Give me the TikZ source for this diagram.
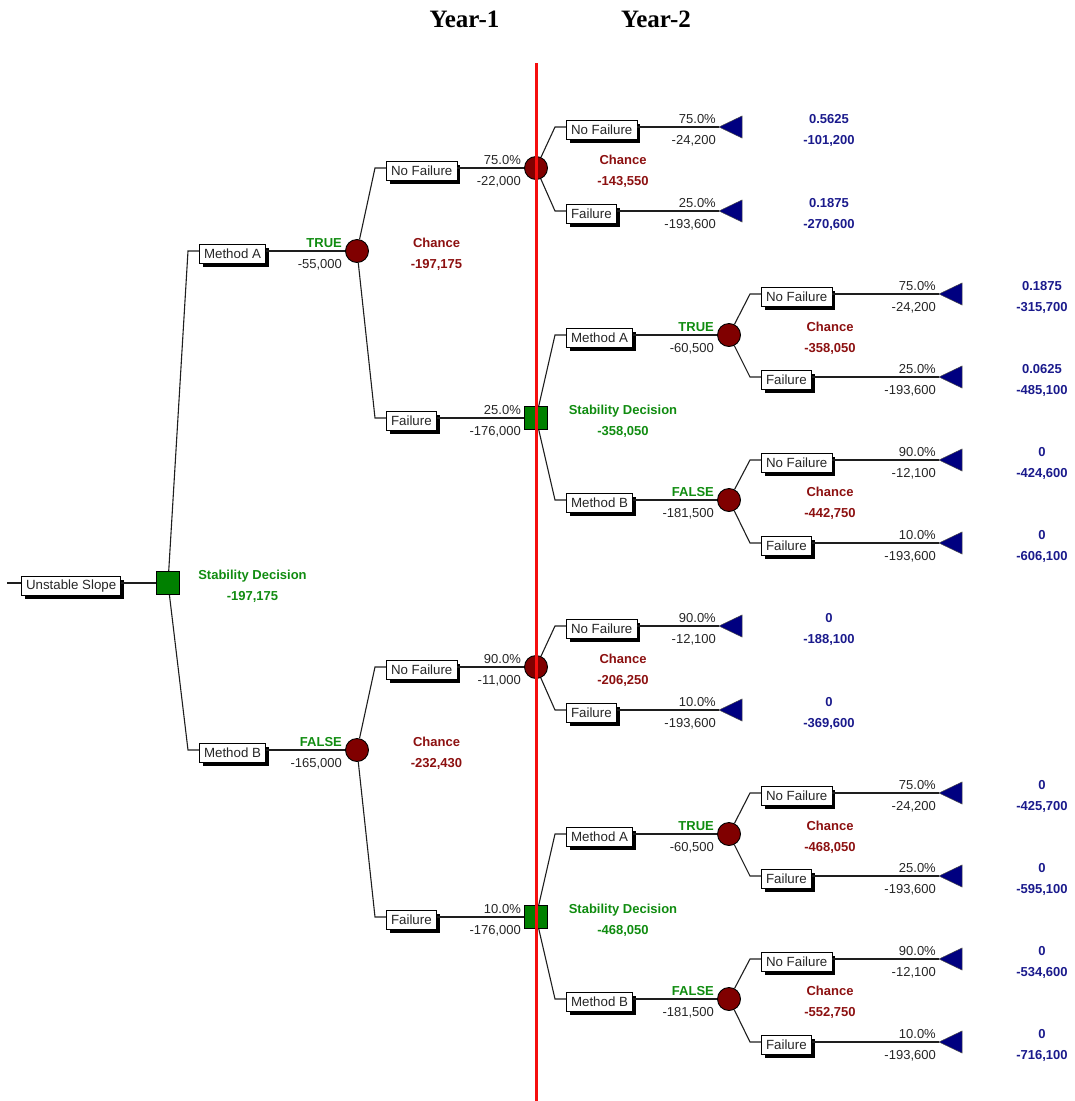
\documentclass[tikz,border=0pt]{standalone}
\usepackage{fontspec}
\setmainfont{Liberation Sans}
\newfontfamily\yearfont{Liberation Serif}
\usetikzlibrary{shadows}

\definecolor{decgreen}{RGB}{0,128,0}
\definecolor{dectext}{RGB}{16,140,16}
\definecolor{chred}{RGB}{128,0,0}
\definecolor{chtext}{RGB}{140,16,16}
\definecolor{endblue}{RGB}{0,0,128}
\definecolor{endtext}{RGB}{26,26,140}
\definecolor{wire}{RGB}{30,30,30}
\definecolor{yearline}{RGB}{245,15,15}

\tikzset{
  wirepath/.style={draw=wire, line width=1.1pt},
  branchbox/.style={draw=black, line width=0.9pt, fill=white, anchor=west,
    font=\fontsize{13.3}{15}\selectfont, text=black!85, inner xsep=4.6pt, inner ysep=0pt,
    minimum height=19.5pt,
    drop shadow={shadow xshift=3.3pt, shadow yshift=-3.3pt, fill=black, opacity=1}},
  chancenode/.style={circle, draw=black, line width=0.9pt, fill=chred,
    minimum size=23pt, inner sep=0pt},
  decisionnode/.style={rectangle, draw=black, line width=0.9pt, fill=decgreen,
    minimum size=23pt, inner sep=0pt},
  endtri/.style={fill=endblue, draw=black!70, line width=0.5pt},
  edgetxt/.style={anchor=base east, font=\fontsize{13}{15}\selectfont, text=black!85, inner sep=0pt},
  edgetrue/.style={anchor=base east, font=\bfseries\fontsize{13}{15}\selectfont, text=dectext, inner sep=0pt},
  chtxt/.style={anchor=base, font=\bfseries\fontsize{13}{15}\selectfont, text=chtext, inner sep=0pt},
  dectxt/.style={anchor=base, font=\bfseries\fontsize{13}{15}\selectfont, text=dectext, inner sep=0pt},
  endtxt/.style={anchor=base, font=\bfseries\fontsize{13}{15}\selectfont, text=endtext, inner sep=0pt},
  yeartitle/.style={anchor=base, font=\yearfont\bfseries\fontsize{25}{28}\selectfont, text=black, inner sep=0pt}
}

% two texts on a branch, right-aligned just before the node it runs into
\newcommand\edgepair[5]{%
  \node[#1] (#2u) at ([xshift=-3pt,yshift=4pt]#3) {#4};
  \node[edgetxt] (#2l) at ([xshift=-3pt,yshift=-17pt]#3) {#5};}
% two centred texts beside a node (position given as x,y)
\newcommand\nodepair[5]{%
  \coordinate (#2c) at (#3);
  \node[#1] (#2u) at ([yshift=4pt]#2c) {#4};
  \node[#1] (#2l) at ([yshift=-17pt]#2c) {#5};}
% end point: filled triangle pointing left, its tip at the named coordinate
\newcommand\leafend[2]{%
  \coordinate (#1) at #2;
  \filldraw[endtri] (#1) -- ++(23,-11) -- ++(0,22) -- cycle;}
% elbow + labelled box hanging from a parent node
\newcommand\boxbranch[5]{% parent, elbow name, elbow pos, box name, box text
  \coordinate (#2) at #3;
  \node[branchbox] (#4) at ([xshift=11pt,yshift=-3pt]#2) {#5};
  \draw[wirepath] (#1) -- (#2) -- (#2 -| #4.west);}

\begin{document}
\begin{tikzpicture}[x=1pt,y=-1pt]
\useasboundingbox (0,0) rectangle (1075,1101);

% titles
\node[yeartitle] (yearone) at (464.5,27) {Year-1};
\node[yeartitle] (yeartwo) at (656,27) {Year-2};

% root
\coordinate (in) at (7,583);
\node[branchbox] (root) at (21,586) {Unstable Slope};
\node[decisionnode] (D0) at (168,583) {};
\draw[wirepath] (in) -- (in -| root.west);
\draw[wirepath] (root.east |- D0) -- (D0);
\nodepair{dectxt}{dz}{252.5,583}{Stability Decision}{-197,175}

% ---------- Year-1, Method A ----------
\node[chancenode] (C1) at (357,251) {};
\boxbranch{D0}{eA}{(188,251)}{bA}{Method A}
\draw[wirepath] (bA.east |- C1) -- (C1);
\edgepair{edgetrue}{lA}{C1.west}{TRUE}{-55,000}
\nodepair{chtxt}{nA}{436.5,251}{Chance}{-197,175}

\node[chancenode] (C11) at (536,168) {};
\boxbranch{C1}{eA1}{(375,168)}{bA1}{No Failure}
\draw[wirepath] (bA1.east |- C11) -- (C11);
\edgepair{edgetxt}{lA1}{C11.west}{75.0\%}{-22,000}
\nodepair{chtxt}{nA1}{623,168}{Chance}{-143,550}

\node[decisionnode] (D11) at (536,418) {};
\boxbranch{C1}{eA2}{(375,418)}{bA2}{Failure}
\draw[wirepath] (bA2.east |- D11) -- (D11);
\edgepair{edgetxt}{lA2}{D11.west}{25.0\%}{-176,000}
\nodepair{dectxt}{nA2}{623,418}{Stability Decision}{-358,050}

% C11 leaves
\leafend{tA11}{(719,127)}
\boxbranch{C11}{eA11}{(555,127)}{bA11}{No Failure}
\draw[wirepath] (bA11.east |- tA11) -- (tA11);
\edgepair{edgetxt}{lA11}{tA11}{75.0\%}{-24,200}
\nodepair{endtxt}{vA11}{829,127}{0.5625}{-101,200}

\leafend{tA12}{(719,211)}
\boxbranch{C11}{eA12}{(555,211)}{bA12}{Failure}
\draw[wirepath] (bA12.east |- tA12) -- (tA12);
\edgepair{edgetxt}{lA12}{tA12}{25.0\%}{-193,600}
\nodepair{endtxt}{vA12}{829,211}{0.1875}{-270,600}

% D11 options
\node[chancenode] (C111) at (729,335) {};
\boxbranch{D11}{eA21}{(555,335)}{bA21}{Method A}
\draw[wirepath] (bA21.east |- C111) -- (C111);
\edgepair{edgetrue}{lA21}{C111.west}{TRUE}{-60,500}
\nodepair{chtxt}{nA21}{830,335}{Chance}{-358,050}

\node[chancenode] (C112) at (729,500) {};
\boxbranch{D11}{eA22}{(555,500)}{bA22}{Method B}
\draw[wirepath] (bA22.east |- C112) -- (C112);
\edgepair{edgetrue}{lA22}{C112.west}{FALSE}{-181,500}
\nodepair{chtxt}{nA22}{830,500}{Chance}{-442,750}

% C111 leaves
\leafend{tA211}{(939,294)}
\boxbranch{C111}{eA211}{(750,294)}{bA211}{No Failure}
\draw[wirepath] (bA211.east |- tA211) -- (tA211);
\edgepair{edgetxt}{lA211}{tA211}{75.0\%}{-24,200}
\nodepair{endtxt}{vA211}{1042,294}{0.1875}{-315,700}

\leafend{tA212}{(939,377)}
\boxbranch{C111}{eA212}{(750,377)}{bA212}{Failure}
\draw[wirepath] (bA212.east |- tA212) -- (tA212);
\edgepair{edgetxt}{lA212}{tA212}{25.0\%}{-193,600}
\nodepair{endtxt}{vA212}{1042,377}{0.0625}{-485,100}

% C112 leaves
\leafend{tA221}{(939,460)}
\boxbranch{C112}{eA221}{(750,460)}{bA221}{No Failure}
\draw[wirepath] (bA221.east |- tA221) -- (tA221);
\edgepair{edgetxt}{lA221}{tA221}{90.0\%}{-12,100}
\nodepair{endtxt}{vA221}{1042,460}{0}{-424,600}

\leafend{tA222}{(939,543)}
\boxbranch{C112}{eA222}{(750,543)}{bA222}{Failure}
\draw[wirepath] (bA222.east |- tA222) -- (tA222);
\edgepair{edgetxt}{lA222}{tA222}{10.0\%}{-193,600}
\nodepair{endtxt}{vA222}{1042,543}{0}{-606,100}

% ---------- Year-1, Method B ----------
\node[chancenode] (C2) at (357,750) {};
\boxbranch{D0}{eB}{(188,750)}{bB}{Method B}
\draw[wirepath] (bB.east |- C2) -- (C2);
\edgepair{edgetrue}{lB}{C2.west}{FALSE}{-165,000}
\nodepair{chtxt}{nB}{436.5,750}{Chance}{-232,430}

\node[chancenode] (C21) at (536,667) {};
\boxbranch{C2}{eB1}{(375,667)}{bB1}{No Failure}
\draw[wirepath] (bB1.east |- C21) -- (C21);
\edgepair{edgetxt}{lB1}{C21.west}{90.0\%}{-11,000}
\nodepair{chtxt}{nB1}{623,667}{Chance}{-206,250}

\node[decisionnode] (D21) at (536,917) {};
\boxbranch{C2}{eB2}{(375,917)}{bB2}{Failure}
\draw[wirepath] (bB2.east |- D21) -- (D21);
\edgepair{edgetxt}{lB2}{D21.west}{10.0\%}{-176,000}
\nodepair{dectxt}{nB2}{623,917}{Stability Decision}{-468,050}

% C21 leaves
\leafend{tB11}{(719,626)}
\boxbranch{C21}{eB11}{(555,626)}{bB11}{No Failure}
\draw[wirepath] (bB11.east |- tB11) -- (tB11);
\edgepair{edgetxt}{lB11}{tB11}{90.0\%}{-12,100}
\nodepair{endtxt}{vB11}{829,626}{0}{-188,100}

\leafend{tB12}{(719,710)}
\boxbranch{C21}{eB12}{(555,710)}{bB12}{Failure}
\draw[wirepath] (bB12.east |- tB12) -- (tB12);
\edgepair{edgetxt}{lB12}{tB12}{10.0\%}{-193,600}
\nodepair{endtxt}{vB12}{829,710}{0}{-369,600}

% D21 options
\node[chancenode] (C211) at (729,834) {};
\boxbranch{D21}{eB21}{(555,834)}{bB21}{Method A}
\draw[wirepath] (bB21.east |- C211) -- (C211);
\edgepair{edgetrue}{lB21}{C211.west}{TRUE}{-60,500}
\nodepair{chtxt}{nB21}{830,834}{Chance}{-468,050}

\node[chancenode] (C212) at (729,999) {};
\boxbranch{D21}{eB22}{(555,999)}{bB22}{Method B}
\draw[wirepath] (bB22.east |- C212) -- (C212);
\edgepair{edgetrue}{lB22}{C212.west}{FALSE}{-181,500}
\nodepair{chtxt}{nB22}{830,999}{Chance}{-552,750}

% C211 leaves
\leafend{tB211}{(939,793)}
\boxbranch{C211}{eB211}{(750,793)}{bB211}{No Failure}
\draw[wirepath] (bB211.east |- tB211) -- (tB211);
\edgepair{edgetxt}{lB211}{tB211}{75.0\%}{-24,200}
\nodepair{endtxt}{vB211}{1042,793}{0}{-425,700}

\leafend{tB212}{(939,876)}
\boxbranch{C211}{eB212}{(750,876)}{bB212}{Failure}
\draw[wirepath] (bB212.east |- tB212) -- (tB212);
\edgepair{edgetxt}{lB212}{tB212}{25.0\%}{-193,600}
\nodepair{endtxt}{vB212}{1042,876}{0}{-595,100}

% C212 leaves
\leafend{tB221}{(939,959)}
\boxbranch{C212}{eB221}{(750,959)}{bB221}{No Failure}
\draw[wirepath] (bB221.east |- tB221) -- (tB221);
\edgepair{edgetxt}{lB221}{tB221}{90.0\%}{-12,100}
\nodepair{endtxt}{vB221}{1042,959}{0}{-534,600}

\leafend{tB222}{(939,1042)}
\boxbranch{C212}{eB222}{(750,1042)}{bB222}{Failure}
\draw[wirepath] (bB222.east |- tB222) -- (tB222);
\edgepair{edgetxt}{lB222}{tB222}{10.0\%}{-193,600}
\nodepair{endtxt}{vB222}{1042,1042}{0}{-716,100}

% year divider, drawn over the nodes it crosses
\coordinate (ytop) at (536,63);
\coordinate (ybot) at (536,1101);
\draw[yearline, line width=3pt] (ytop) -- (ybot);
\end{tikzpicture}
\end{document}
